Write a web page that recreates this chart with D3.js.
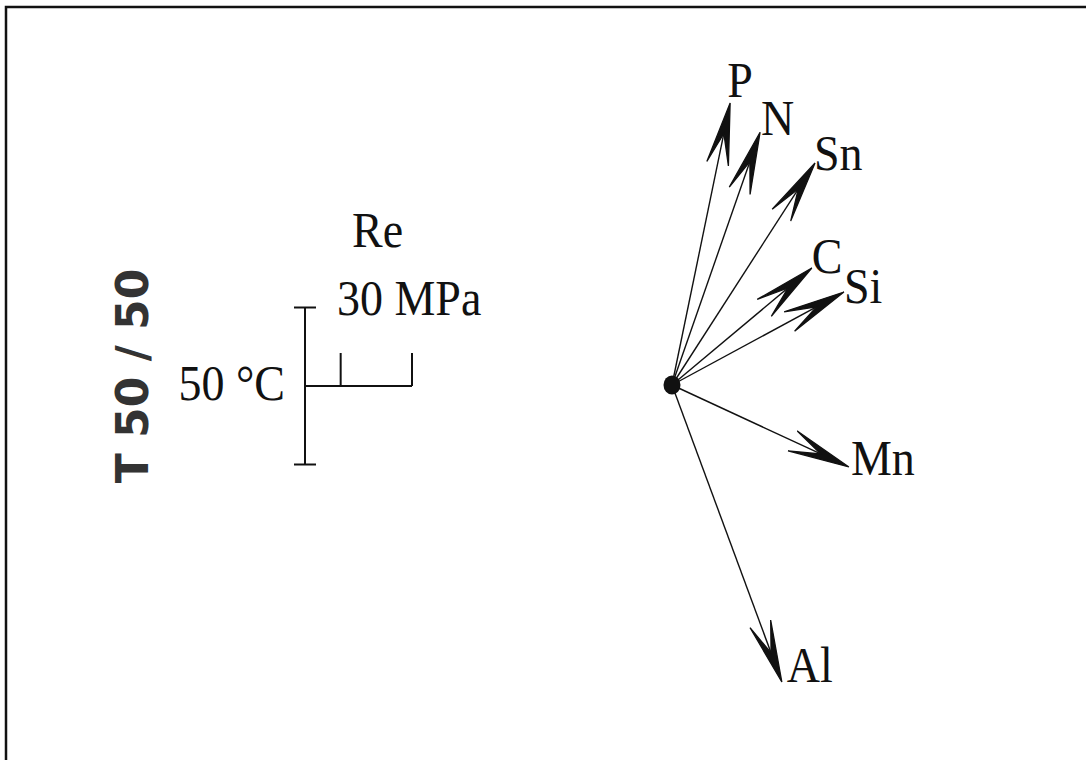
<!DOCTYPE html>
<html>
<head>
<meta charset="utf-8">
<script src="https://cdn.jsdelivr.net/npm/d3@7/dist/d3.min.js"></script>
<style>
  html, body { margin: 0; padding: 0; background: #fff; }
  svg { display: block; }
</style>
</head>
<body>
<svg id="chart" width="1086" height="760"></svg>
<script>
// ---- data ----
const elements = ["P", "N", "Sn", "C", "Si", "Mn", "Al"];
const reEffect = [16.3, 24.7, 40.1, 39.2, 48.2, 49.6, 30.8];      // MPa (Re)
const tEffect  = [179.6, 161, 141.4, 74.5, 59.2, -52.2, -189.2];  // °C (T 50/50)
const scaleReTicks = [10, 30];        // MPa ticks on the scale bar
const scaleTRange = [-50, 50];        // °C extent of the scale bar
const scaleReLabel = "30 MPa";
const scaleTLabel = "50 °C";
const axisReTitle = "Re";
const axisTTitle = "T 50 / 50";

// ---- layout ----
const W = 1086, H = 760;
const origin = { x: 672, y: 385 };
const legendOrigin = { x: 305, y: 386 };
const xS = d3.scaleLinear().domain([0, 30]).range([0, 107]);
const yS = d3.scaleLinear().domain([0, 50]).range([0, -78.5]);
const labelOffset = {
  P: [-3, -6], N: [1, 3], Sn: [-1, 7], C: [0, 5], Si: [0, 11], Mn: [2, 8], Al: [5, 0]
};
const serif = "'Liberation Serif', 'Times New Roman', serif";

const svg = d3.select("#chart");
svg.append("rect").attr("width", W).attr("height", H).attr("fill", "#fff");

// frame (top and left edges visible)
svg.append("path")
  .attr("d", `M6,${H} L6,7 L${W},7`)
  .attr("fill", "none").attr("stroke", "#111").attr("stroke-width", 2.5);

function serifText(sel, x, y, txt, anchor) {
  return sel.append("text")
    .attr("transform", `translate(${x},${y}) scale(1,1.08)`)
    .attr("text-anchor", anchor || "start")
    .attr("font-family", serif).attr("font-size", 46).attr("fill", "#111")
    .text(txt);
}

// ---- vectors ----
const data = elements.map((e, i) => ({ name: e, re: reEffect[i], t: tEffect[i] }));
const g = svg.append("g").attr("transform", `translate(${origin.x},${origin.y})`);

const L = 62, w = 11;
data.forEach(d => {
  const tx = xS(d.re), ty = yS(d.t);
  const len = Math.hypot(tx, ty);
  const ux = tx / len, uy = ty / len;
  const px = -uy, py = ux;
  g.append("line")
    .attr("x1", 0).attr("y1", 0).attr("x2", tx - ux * 6).attr("y2", ty - uy * 6)
    .attr("stroke", "#111").attr("stroke-width", 1.4);
  const b1 = [tx - ux * L + px * w, ty - uy * L + py * w];
  const b2 = [tx - ux * L - px * w, ty - uy * L - py * w];
  const inner = [tx - ux * L * 0.5, ty - uy * L * 0.5];
  g.append("path")
    .attr("d", `M${tx},${ty} L${b1[0]},${b1[1]} L${inner[0]},${inner[1]} L${b2[0]},${b2[1]} Z`)
    .attr("fill", "#111").attr("stroke", "#111").attr("stroke-width", 1.3)
    .attr("stroke-linejoin", "miter");
  const off = labelOffset[d.name];
  serifText(g, tx + off[0], ty + off[1], d.name);
});

g.append("ellipse").attr("cx", 0).attr("cy", 0).attr("rx", 8.5).attr("ry", 9.5).attr("fill", "#111");

// ---- scale bar ----
const lg = svg.append("g").attr("transform", `translate(${legendOrigin.x},${legendOrigin.y})`);
const sw = 2;
lg.append("line")
  .attr("x1", 0).attr("x2", 0).attr("y1", yS(scaleTRange[1])).attr("y2", yS(scaleTRange[0]))
  .attr("stroke", "#111").attr("stroke-width", sw);
scaleTRange.forEach(v => {
  lg.append("line")
    .attr("x1", -11).attr("x2", 11).attr("y1", yS(v)).attr("y2", yS(v))
    .attr("stroke", "#111").attr("stroke-width", sw);
});
lg.append("line")
  .attr("x1", 0).attr("x2", xS(d3.max(scaleReTicks))).attr("y1", 0).attr("y2", 0)
  .attr("stroke", "#111").attr("stroke-width", sw);
scaleReTicks.forEach(v => {
  lg.append("line")
    .attr("x1", xS(v)).attr("x2", xS(v)).attr("y1", 0).attr("y2", -33)
    .attr("stroke", "#111").attr("stroke-width", sw);
});

serifText(lg, 47, -139, axisReTitle);
serifText(lg, 32, -71, scaleReLabel);
serifText(lg, -20, 14, scaleTLabel, "end");

svg.append("text")
  .attr("transform", "translate(148,376) rotate(-90)")
  .attr("text-anchor", "middle")
  .attr("font-family", "'DejaVu Sans', sans-serif").attr("font-size", 44)
  .attr("font-weight", "bold")
  .attr("fill", "#333")
  .text(axisTTitle);
</script>
</body>
</html>
